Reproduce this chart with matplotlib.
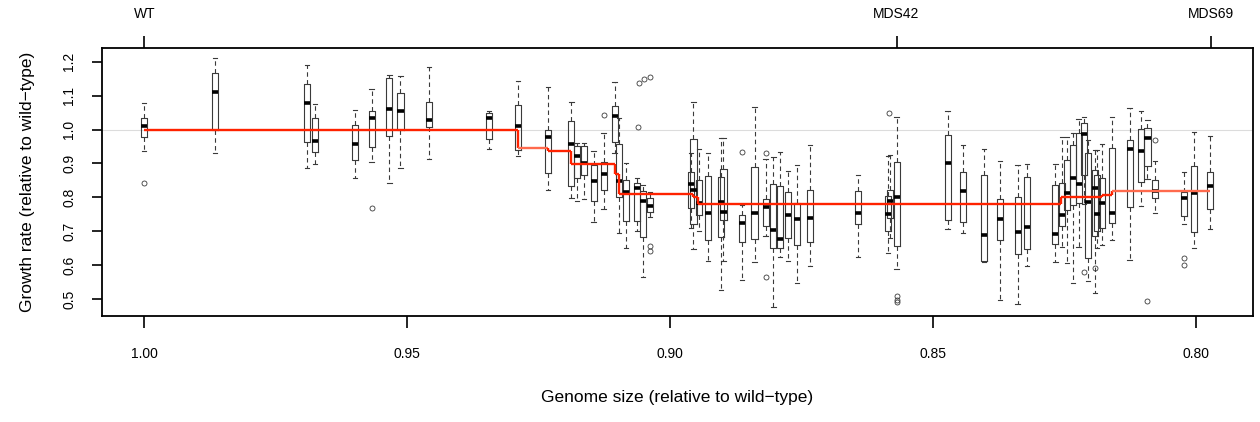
import numpy as np
import matplotlib
matplotlib.use("Agg")
import matplotlib.pyplot as plt

plt.rcParams["font.family"] = ["Liberation Sans", "DejaVu Sans"]

# --- Data -------------------------------------------------------------------
# one entry per strain: genome size and box statistics of its growth rate
pos = [1.000, 0.9866, 0.9690, 0.9675, 0.9600, 0.9568, 0.9534, 0.9513, 0.9459,
       0.9345, 0.9290, 0.9233, 0.9188, 0.9177, 0.9164, 0.9146, 0.9127, 0.9106,
       0.9097, 0.9084, 0.9063, 0.9052, 0.9039, 0.8961, 0.8956, 0.8946, 0.8929,
       0.8904, 0.8899, 0.8864, 0.8840, 0.8819, 0.8804, 0.8791, 0.8777, 0.8759,
       0.8734, 0.8644, 0.8587, 0.8582, 0.8570, 0.8473, 0.8444, 0.8404, 0.8374,
       0.8340, 0.8322, 0.8268, 0.8256, 0.8246, 0.8234, 0.8224, 0.8214, 0.8206,
       0.8193, 0.8189, 0.8179, 0.8161, 0.8127, 0.8105, 0.8093, 0.8078, 0.8023,
       0.8004, 0.7974]
whislo = [0.936, 0.931, 0.886, 0.898, 0.856, 0.904, 0.841, 0.887, 0.912,
          0.944, 0.922, 0.823, 0.797, 0.789, 0.794, 0.726, 0.766, 0.930,
          0.694, 0.652, 0.701, 0.566, 0.741, 0.709, 0.649, 0.700, 0.612,
          0.527, 0.613, 0.556, 0.608, 0.687, 0.478, 0.623, 0.612, 0.546,
          0.597, 0.623, 0.637, 0.680, 0.589, 0.707, 0.696, 0.608, 0.497,
          0.485, 0.597, 0.610, 0.654, 0.605, 0.547, 0.654, 0.780, 0.554,
          0.517, 0.650, 0.659, 0.675, 0.614, 0.774, 0.853, 0.754, 0.720,
          0.650, 0.708]
q1 = [0.977, 1.000, 0.962, 0.933, 0.910, 0.948, 0.982, 1.000, 1.006,
      0.972, 0.939, 0.873, 0.833, 0.856, 0.865, 0.790, 0.821, 0.962,
      0.801, 0.731, 0.730, 0.682, 0.756, 0.768, 0.722, 0.748, 0.673,
      0.683, 0.733, 0.668, 0.678, 0.716, 0.651, 0.651, 0.679, 0.660,
      0.668, 0.721, 0.700, 0.738, 0.656, 0.732, 0.727, 0.612, 0.673,
      0.632, 0.647, 0.662, 0.716, 0.763, 0.777, 0.783, 0.866, 0.621,
      0.686, 0.700, 0.709, 0.724, 0.770, 0.844, 0.892, 0.799, 0.745,
      0.699, 0.765]
med = [1.010, 1.110, 1.079, 0.965, 0.958, 1.034, 1.060, 1.056, 1.027,
       1.034, 1.009, 0.977, 0.958, 0.922, 0.902, 0.849, 0.868, 1.041,
       0.849, 0.817, 0.827, 0.788, 0.774, 0.839, 0.823, 0.782, 0.755,
       0.786, 0.756, 0.723, 0.753, 0.772, 0.704, 0.677, 0.747, 0.736,
       0.740, 0.755, 0.752, 0.790, 0.800, 0.902, 0.819, 0.689, 0.737,
       0.699, 0.713, 0.692, 0.748, 0.814, 0.858, 0.839, 0.986, 0.787,
       0.827, 0.752, 0.783, 0.755, 0.942, 0.936, 0.976, 0.819, 0.798,
       0.814, 0.833]
q3 = [1.033, 1.166, 1.133, 1.033, 1.014, 1.055, 1.153, 1.107, 1.080,
      1.050, 1.073, 1.000, 1.024, 0.952, 0.950, 0.895, 0.905, 1.070,
      0.956, 0.851, 0.843, 0.818, 0.799, 0.874, 0.971, 0.850, 0.864,
      0.861, 0.883, 0.747, 0.888, 0.794, 0.840, 0.832, 0.815, 0.783,
      0.822, 0.818, 0.805, 0.823, 0.904, 0.983, 0.874, 0.866, 0.796,
      0.800, 0.859, 0.835, 0.841, 0.910, 0.953, 0.989, 1.020, 0.930,
      0.881, 0.865, 0.856, 0.945, 0.969, 1.001, 1.005, 0.850, 0.815,
      0.891, 0.874]
whishi = [1.077, 1.210, 1.190, 1.075, 1.057, 1.120, 1.161, 1.157, 1.183,
          1.055, 1.143, 1.126, 1.080, 0.959, 0.961, 0.936, 0.990, 1.141,
          1.033, 0.900, 0.856, 0.835, 0.817, 0.930, 1.080, 0.944, 0.932,
          0.976, 0.974, 0.777, 1.065, 0.912, 0.918, 0.935, 0.877, 0.895,
          0.955, 0.866, 0.922, 0.925, 1.038, 1.056, 0.954, 0.944, 0.908,
          0.894, 0.898, 0.899, 0.977, 0.979, 0.989, 1.030, 1.036, 0.970,
          0.940, 0.940, 0.956, 1.038, 1.064, 1.056, 1.028, 0.908, 0.874,
          0.994, 0.982]

out_x = [1.000, 0.9568, 0.9127, 0.9062, 0.9059, 0.9051, 0.9039, 0.9039, 0.9039,
         0.8864, 0.8819, 0.8819, 0.8584, 0.8570, 0.8570, 0.8570, 0.8214, 0.8192,
         0.8093, 0.8078, 0.8023, 0.8023]
out_y = [0.841, 0.769, 1.043, 1.006, 1.138, 1.148, 1.154, 0.656, 0.641,
         0.933, 0.932, 0.564, 1.049, 0.510, 0.497, 0.490, 0.580, 0.592,
         0.495, 0.970, 0.620, 0.599]

# fitted step model (red line)
step_x = [1.000, 0.9290, 0.9233, 0.9188, 0.9106, 0.9097, 0.8957, 0.8948,
          0.8258, 0.8180, 0.8161, 0.7974]
step_y = [1.000, 0.946, 0.937, 0.898, 0.870, 0.810, 0.802, 0.781,
          0.801, 0.807, 0.819, 0.819]
step_light = [False, True, False, False, False, False, False, False,
              False, False, True]

top_ticks = [1.000, 0.857, 0.7973]
top_labels = ["WT", "MDS42", "MDS69"]

# --- Plot -------------------------------------------------------------------
fig = plt.figure(figsize=(12.6, 4.22), dpi=100)
ax = fig.add_axes([0.0807, 0.2512, 0.9135, 0.6343])

ax.axhline(1.0, color="#dcdcdc", lw=0.8, zorder=0)

stats = [dict(med=m, q1=a, q3=b, whislo=lo, whishi=hi, fliers=[])
         for lo, a, m, b, hi in zip(whislo, q1, med, q3, whishi)]
edge = "#3a3a3a"
ax.bxp(stats, positions=pos, widths=0.00115, capwidths=0.0008,
       manage_ticks=False, showfliers=False,
       boxprops=dict(color=edge, lw=0.8),
       whiskerprops=dict(color=edge, lw=0.8, ls=(0, (4, 3))),
       capprops=dict(color=edge, lw=0.8),
       medianprops=dict(color="black", lw=2.6, solid_capstyle="butt"))
ax.plot(out_x, out_y, "o", ms=3.6, mfc="none", mec=edge, mew=0.6)

# red step line, drawn segment by segment
for i in range(len(step_x) - 1):
    c = "#ff6a4d" if step_light[i] else "#ff2200"
    ax.plot([step_x[i], step_x[i + 1]], [step_y[i], step_y[i]],
            color=c, lw=1.7, zorder=5, solid_capstyle="butt")
    if step_y[i + 1] != step_y[i]:
        ax.plot([step_x[i + 1], step_x[i + 1]], [step_y[i], step_y[i + 1]],
                color="#ff2200", lw=1.7, zorder=5, solid_capstyle="butt")

ax.set_xlim(1.0081, 0.7893)
ax.set_ylim(0.45, 1.2395)
ax.set_xticks([1.00, 0.95, 0.90, 0.85, 0.80])
ax.set_xticklabels(["1.00", "0.95", "0.90", "0.85", "0.80"])
ax.set_yticks([0.5, 0.6, 0.7, 0.8, 0.9, 1.0, 1.1, 1.2])
ax.set_yticklabels(["0.5", "0.6", "0.7", "0.8", "0.9", "1.0", "1.1", "1.2"])
ax.tick_params(axis="x", direction="out", length=8.6, width=1.2,
               pad=13.5, labelsize=10)
ax.tick_params(axis="y", direction="out", length=7.4, width=1.2,
               pad=11, labelsize=10, labelrotation=90)
for lab in ax.get_yticklabels():
    lab.set_va("center")
for s in ax.spines.values():
    s.set_linewidth(1.3)

sec = ax.secondary_xaxis("top")
sec.set_xticks(top_ticks)
sec.set_xticklabels(top_labels)
sec.tick_params(direction="out", length=8.6, width=1.2, pad=11, labelsize=10)
sec.spines["top"].set_visible(False)

ax.set_xlabel("Genome size (relative to wild\u2212type)", fontsize=12.5)
ax.xaxis.set_label_coords(0.5, -0.275)
ax.set_ylabel("Growth rate (relative to wild\u2212type)", fontsize=12.5)
ax.yaxis.set_label_coords(-0.058, 0.5)

fig.savefig("out.png", dpi=100)
